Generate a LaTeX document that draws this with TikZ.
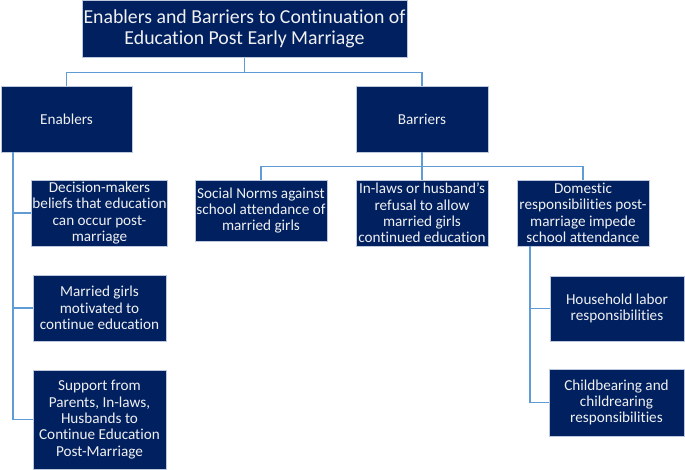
\documentclass[tikz,border=0pt]{standalone}
\usepackage{fontspec}
\setmainfont{Carlito}[Ligatures=NoCommon]
\usepackage{tikz}

\definecolor{navy}{RGB}{0,32,96}
\definecolor{linkblue}{RGB}{95,155,212}
\definecolor{rim}{RGB}{190,200,220}

\begin{document}
\begin{tikzpicture}[x=1pt,y=-1pt]
\tikzset{box/.style={draw=rim,fill=navy,text=white!94!black,line width=0.5pt,inner sep=1pt,align=center,
           font=\fontsize{15.2}{16.4}\selectfont},
         hdr/.style={box,font=\fontsize{19.8}{21.5}\selectfont},
         link/.style={draw=linkblue,line width=1.3pt}}
\useasboundingbox (0,0) rectangle (685,470);
\node[hdr,minimum width=325pt,minimum height=57pt] (top) at (244.5,29) {Enablers and Barriers to Continuation of\\Education Post Early Marriage};
\node[box,minimum width=131pt,minimum height=66pt] (enab) at (66.5,119) {Enablers};
\node[box,minimum width=132pt,minimum height=66pt] (barr) at (422,119) {Barriers};
\node[box,minimum width=133pt,minimum height=66pt] (dec) at (99.5,213) {Decision-makers\\beliefs that education\\can occur post-\\marriage};
\node[box,minimum width=133pt,minimum height=66pt] (mar) at (99.5,308) {Married girls\\motivated to\\continue education};
\node[box,minimum width=133pt,minimum height=99pt] (sup) at (99.5,419.5) {Support from\\Parents, In-laws,\\Husbands to\\Continue Education\\Post-Marriage};
\node[box,minimum width=132pt,minimum height=61pt] (norm) at (261,210.5) {Social Norms against\\school attendance of\\married girls};
\node[box,minimum width=132pt,minimum height=66pt] (inl) at (422,213) {In-laws or husband’s\\refusal to allow\\married girls\\continued education};
\node[box,minimum width=132pt,minimum height=66pt] (dom) at (583,213) {Domestic\\responsibilities post-\\marriage impede\\school attendance};
\node[box,minimum width=134pt,minimum height=65pt] (hh) at (617,308.5) {Household labor\\responsibilities};
\node[box,minimum width=135pt,minimum height=67pt] (cb) at (616.5,402.5) {Childbearing and\\childrearing\\responsibilities};
\coordinate (etop) at (13,152.5);
\coordinate (dtop) at (530,246.5);
\draw[link] (top.south) -- +(0,15) -| (enab.north);
\draw[link] (top.south) -- +(0,15) -| (barr.north);
\draw[link] (barr.south) -- +(0,14) -| (norm.north);
\draw[link] (barr.south) -- +(0,14) -| (dom.north);
\draw[link] (barr.south) -- (inl.north);
\draw[link] (etop) |- (dec.west);
\draw[link] (etop) |- (mar.west);
\draw[link] (etop) |- (sup.west);
\draw[link] (dtop) |- (hh.west);
\draw[link] (dtop) |- (cb.west);
\end{tikzpicture}
\end{document}
